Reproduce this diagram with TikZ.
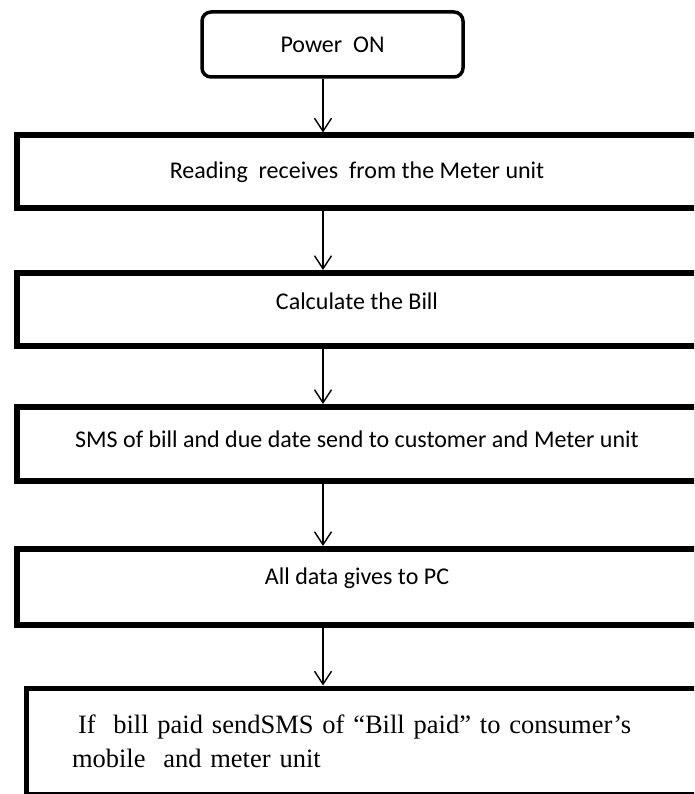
\documentclass[tikz,border=0pt]{standalone}
\usepackage{fontspec}
\setmainfont{Carlito}
\newfontfamily\serifbox{Liberation Serif}
\usetikzlibrary{arrows.meta,positioning}

\tikzset{
  stepbox/.style={draw,line width=6pt,minimum width=680pt,minimum height=73pt,inner sep=0pt,
    font=\fontsize{24}{28}\selectfont},
  flow/.style={-{Straight Barb[length=13pt,width=17pt]},line width=1.4pt}
}

\begin{document}
\begin{tikzpicture}[x=1pt,y=-1pt]
\useasboundingbox (0,0) rectangle (694,794);
\clip (0,0) rectangle (694,794);
\coordinate (ax) at (323,0);
% start box
\node[draw,rounded corners=9pt,line width=3.5pt,minimum width=261pt,minimum height=65pt,
  font=\fontsize{24}{28}\selectfont] (power) at (332.5,44.5) {Power\ \ ON};
% steps
\node[stepbox,text depth=3pt] (reading) at (357,172) {Reading\ \ receives\ \ from the Meter unit};
\node[stepbox,text depth=17pt] (bill) at (357,309.5) {Calculate the Bill};
\node[stepbox,minimum height=74pt,text depth=9pt] (sms) at (357,444) {SMS of bill and due date send to customer and Meter unit};
\node[stepbox,minimum height=76pt,text depth=21pt] (pc) at (357,587) {All data gives to PC};
\node[draw,line width=5pt,minimum width=674pt,minimum height=106pt,inner sep=0pt,
  text width=582pt,align=left,font=\serifbox\fontsize{26.5}{34}\selectfont] (paid) at (363,741)
  {\hspace*{6pt}If\ \ bill paid sendSMS of “Bill paid” to consumer’s\\mobile\ \ and meter unit\\[-20pt]};
% arrows
\draw[flow] (power.south -| ax) -- (reading.north -| ax);
\draw[flow] (reading.south -| ax) -- (bill.north -| ax);
\draw[flow] (bill.south -| ax) -- (sms.north -| ax);
\draw[flow] (sms.south -| ax) -- (pc.north -| ax);
\draw[flow] (pc.south -| ax) -- (paid.north -| ax);
\end{tikzpicture}
\end{document}
